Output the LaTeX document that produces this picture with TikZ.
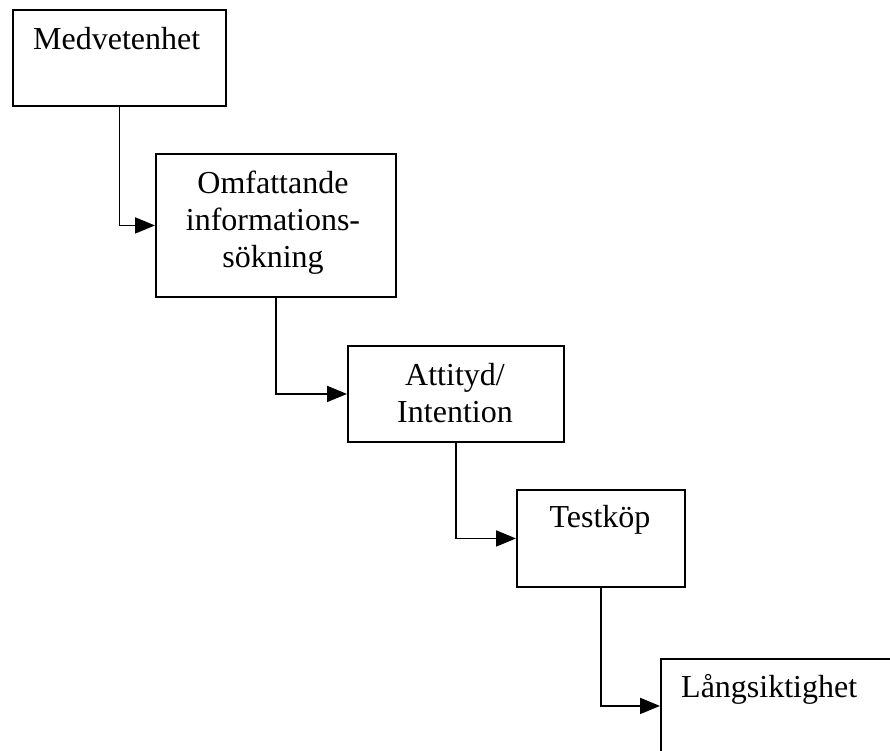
\documentclass[tikz,border=0pt]{standalone}
\usepackage{fontspec}
\setmainfont{Liberation Serif}
\usetikzlibrary{arrows.meta}
\begin{document}
\begin{tikzpicture}[x=1pt,y=-1pt,
  stage/.style={draw, line width=1.9pt, rectangle, inner sep=0pt, anchor=north west},
  caption/.style={font=\fontsize{32}{37}\selectfont, inner sep=0pt, align=center},
  flow/.style={line width=1.9pt, -{Triangle[length=20pt,width=16pt]}}]
\clip (0,0) rectangle (890,751);
\fill[white] (0,0) rectangle (890,751);

% stage boxes
\node[stage, minimum width=213pt, minimum height=96pt]  (b1) at (12,9)    {};
\node[stage, minimum width=240pt, minimum height=143pt] (b2) at (155,153) {};
\node[stage, minimum width=216pt, minimum height=96pt]  (b3) at (347,345) {};
\node[stage, minimum width=168pt, minimum height=97pt]  (b4) at (516,489) {};
\node[stage, minimum width=250pt, minimum height=94pt]  (b5) at (660,658) {};

% stage labels
\node[caption, anchor=base west] (t1) at (33,50)   {Medvetenhet};
\node[caption, anchor=center]    (t2) at (273,223) {Omfattande\\informations-\\sökning};
\node[caption, anchor=center]    (t3) at (455,393) {Attityd/\\Intention};
\node[caption, anchor=base]      (t4) at (600,527) {Testköp};
\node[caption, anchor=base west] (t5) at (681,697) {Långsiktighet};

% step connectors
\draw[flow] (b1.south) |- (b2.west);
\draw[flow] (b2.south) |- (b3.west);
\draw[flow] (b3.south) |- (b4.west);
\draw[flow] (b4.south) |- (b5.west);
\end{tikzpicture}
\end{document}
